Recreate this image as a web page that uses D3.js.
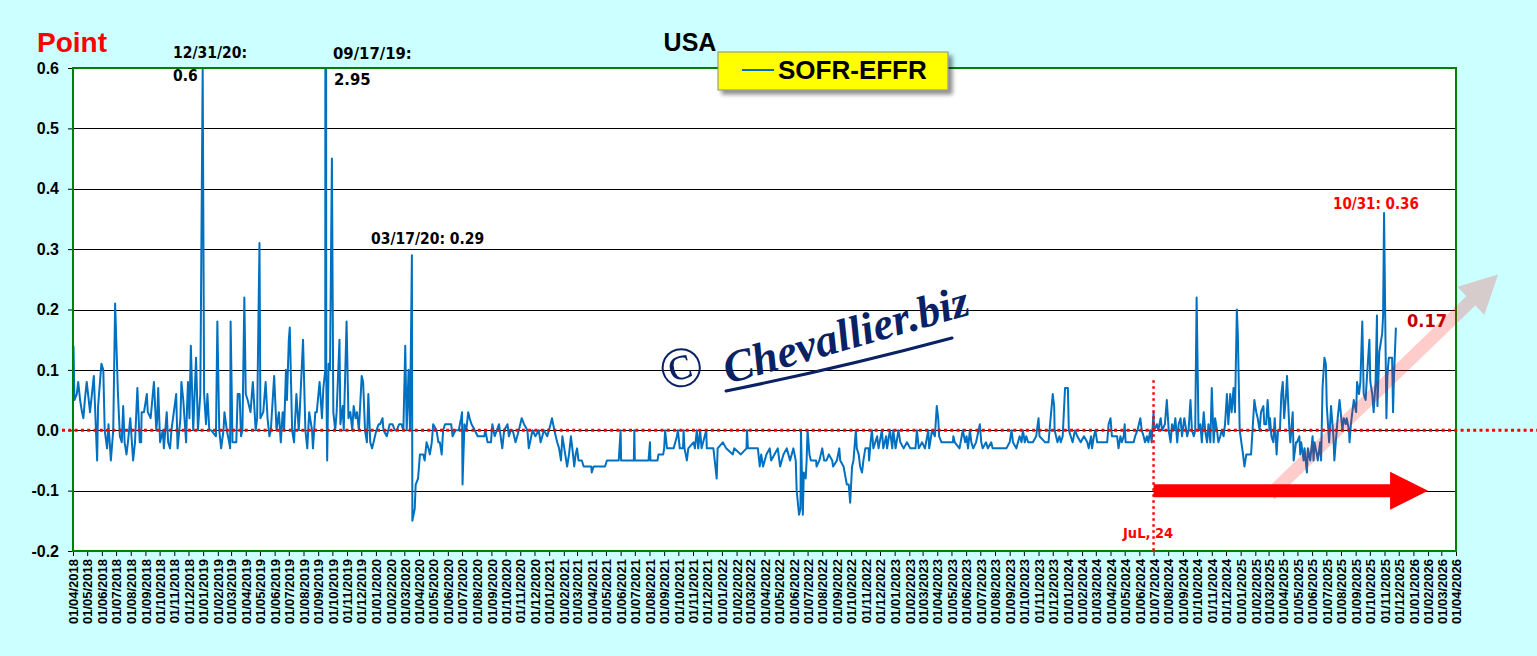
<!DOCTYPE html>
<html><head><meta charset="utf-8">
<script src="https://cdn.jsdelivr.net/npm/d3@7"></script>
<style>
html,body{margin:0;padding:0;background:#CCFFFF;overflow:hidden;}
svg{display:block;}
</style></head><body>
<svg id="chart" width="1537" height="656"></svg>
<script>
// ---------- DATA (SOFR - EFFR, percentage points) ----------
const s2018 = [["04-02",0.14],["04-04",0.05],["04-09",0.06],["04-12",0.08],["04-16",0.05],["04-20",0.03],["04-23",0.02],["04-26",0.05],["04-30",0.08],
["05-07",0.03],["05-15",0.09],["05-22",-0.05],["05-24",0.04],["05-31",0.11],
["06-04",0.10],["06-07",0.0],["06-12",-0.03],["06-15",0.01],["06-20",-0.05],["06-25",0.0],["06-29",0.21],
["07-05",0.06],["07-09",-0.01],["07-13",-0.02],["07-16",0.04],["07-19",-0.02],["07-23",-0.04],["07-26",-0.02],["07-31",0.02],
["08-06",-0.05],["08-10",-0.02],["08-15",0.07],["08-20",-0.02],["08-23",-0.02],["08-24",0.03],["08-29",0.03],
["09-04",0.06],["09-06",0.03],["09-12",0.02],["09-19",0.08],["09-24",0.0],["09-26",0.02],["09-28",0.07],
["10-02",-0.02],["10-08",0.0],["10-10",-0.03],["10-16",0.03],["10-19",-0.02],["10-23",-0.03],["10-26",0.0],
["11-05",0.06],["11-08",-0.03],["11-14",0.02],["11-16",0.08],["11-20",0.05],["11-26",-0.02],["11-28",0.04],["11-30",0.08],
["12-03",0.02],["12-06",0.14],["12-11",0.0],["12-17",0.12],["12-21",0.0],["12-26",0.06],["12-31",0.60]];

const s2019 = [["01-03",0.06],["01-07",0.01],["01-10",0.06],["01-14",0.0],["01-18",0.0],["01-28",-0.01],["01-31",0.18],
["02-04",0.0],["02-08",-0.03],["02-13",0.0],["02-15",0.03],["02-20",0.0],["02-25",-0.02],["02-27",-0.03],["02-28",0.18],
["03-04",-0.02],["03-08",-0.02],["03-12",-0.02],["03-15",0.06],["03-19",0.06],["03-22",-0.01],["03-25",0.0],["03-29",0.22],
["04-01",0.06],["04-05",0.05],["04-11",0.03],["04-16",0.08],["04-22",0.0],["04-25",0.02],["04-30",0.31],
["05-02",0.02],["05-08",0.03],["05-13",0.08],["05-17",0.02],["05-21",-0.01],["05-24",0.0],["05-31",0.09],
["06-05",0.0],["06-10",0.03],["06-14",-0.02],["06-18",0.03],["06-21",0.0],["06-25",0.10],["06-27",0.05],
["07-01",0.15],["07-03",0.17],["07-08",0.0],["07-12",-0.02],["07-17",0.06],["07-22",0.0],["07-24",0.03],["07-31",0.15],
["08-05",0.0],["08-09",-0.03],["08-13",0.03],["08-19",0.0],["08-21",-0.03],["08-26",0.03],["08-29",0.03],
["09-04",0.08],["09-09",0.02],["09-12",0.07],["09-16",0.10],["09-17",2.95],["09-18",0.10],["09-20",-0.05],["09-23",0.11],["09-26",0.10],["09-30",0.45],
["10-03",0.03],["10-07",0.0],["10-10",0.03],["10-16",0.15],["10-18",0.01],["10-23",0.04],["10-25",0.0],["10-31",0.18],
["11-04",0.02],["11-08",0.03],["11-12",0.0],["11-15",0.04],["11-19",0.02],["11-22",0.03],["11-26",0.0],
["12-02",0.09],["12-05",0.08],["12-09",0.0],["12-13",-0.02],["12-16",0.06],["12-20",-0.02],["12-24",-0.03],["12-30",-0.01]];

const s2020 = [["01-02",0.0],["01-07",0.01],["01-10",0.01],["01-15",0.02],["01-17",0.0],["01-24",-0.01],["01-30",0.01],
["02-05",0.01],["02-10",0.0],["02-14",0.0],["02-19",0.01],["02-24",0.01],["02-28",0.0],
["03-03",0.14],["03-06",0.0],["03-10",0.10],["03-13",0.0],["03-17",0.29],["03-18",-0.15],["03-23",-0.13],["03-25",-0.09],["03-30",-0.08],
["04-03",-0.04],["04-10",-0.04],["04-13",-0.05],["04-17",-0.02],["04-21",-0.03],["04-24",-0.04],["04-28",-0.02],
["05-01",0.01],["05-08",0.0],["05-12",-0.02],["05-15",-0.02],["05-19",-0.04],["05-22",0.0],["05-26",0.01],
["06-03",0.01],["06-08",0.01],["06-11",-0.01],["06-17",0.0],["06-24",0.0],["06-29",0.02],
["07-01",0.03],["07-02",-0.09],["07-06",0.01],["07-10",0.0],["07-14",0.03],["07-17",0.02],["07-21",0.01],["07-28",0.0],
["08-03",-0.01],["08-10",-0.01],["08-17",-0.01],["08-19",0.0],["08-24",-0.02],["08-31",-0.02],
["09-03",0.01],["09-08",-0.01],["09-17",0.01],["09-24",-0.03],["09-28",0.0],
["10-05",0.01],["10-08",-0.01],["10-12",0.0],["10-16",0.0],["10-22",-0.02],["10-29",0.0],
["11-04",0.02],["11-09",0.01],["11-16",0.0],["11-19",-0.03],["11-27",0.0],
["12-03",-0.01],["12-10",0.0],["12-14",-0.02],["12-21",0.0],["12-28",-0.01]];

const s2021 = [["01-04",0.01],["01-07",0.02],["01-12",0.0],["01-18",-0.02],["01-22",-0.03],["01-26",-0.05],["01-29",-0.01],
["02-02",-0.03],["02-08",-0.06],["02-12",-0.04],["02-16",-0.01],["02-19",-0.03],["02-23",-0.06],["02-26",-0.04],
["03-01",-0.03],["03-04",-0.05],["03-11",-0.05],["03-15",-0.06],["03-31",-0.06],["04-01",-0.07],["04-05",-0.06],["04-29",-0.06],
["05-03",-0.05],["05-28",-0.05],["06-01",0.0],["06-02",-0.05],["06-29",-0.05],["06-30",0.0],["07-01",-0.05],
["07-30",-0.05],["08-02",-0.02],["08-03",-0.05],["08-18",-0.05],["08-20",-0.04],["08-30",-0.04],["09-01",-0.03],["09-03",0.0],["09-07",-0.03],
["09-21",-0.03],["09-28",-0.01],["09-30",0.0],["10-04",-0.03],["10-11",-0.03],["10-12",0.0],["10-14",-0.03],["10-19",-0.05],["10-22",-0.03],
["11-02",-0.02],["11-05",-0.03],["11-09",0.0],["11-12",-0.03],["11-16",0.0],["11-19",-0.03],["11-29",0.0],["11-30",-0.03],
["12-14",-0.03],["12-21",-0.08],["12-23",-0.03]];

const s2022 = [["01-03",-0.02],["01-10",-0.03],["01-24",-0.04],["01-27",-0.03],["02-10",-0.04],["02-22",-0.03],["02-23",0.0],["02-25",-0.03],
["03-18",-0.03],["03-22",-0.06],["03-25",-0.04],["03-29",-0.06],["04-05",-0.04],["04-12",-0.03],["04-15",-0.05],["04-22",-0.04],["04-29",-0.03],
["05-04",-0.06],["05-11",-0.04],["05-18",-0.03],["05-25",-0.05],["06-01",-0.03],["06-06",-0.05],["06-08",-0.10],["06-13",-0.14],["06-16",-0.13],["06-17",0.0],["06-21",-0.14],["06-23",-0.07],["06-27",-0.08],["06-29",-0.05],
["07-01",0.0],["07-05",-0.04],["07-08",-0.05],["07-19",-0.05],["07-20",-0.06],["07-26",-0.05],
["08-01",-0.03],["08-05",-0.05],["08-10",-0.05],["08-15",-0.04],["08-22",-0.05],["08-24",-0.06],
["09-01",-0.05],["09-06",-0.03],["09-08",-0.05],["09-15",-0.06],["09-22",-0.09],["09-26",-0.09],["09-29",-0.12],
["10-03",-0.06],["10-06",-0.05],["10-11",0.0],["10-13",-0.03],["10-17",-0.04],["10-20",-0.06],["10-24",-0.07],["10-27",-0.05],["10-31",-0.03],
["11-07",-0.03],["11-08",-0.05],["11-11",-0.02],["11-14",0.0],["11-17",-0.03],["11-25",-0.01],["11-28",-0.03],
["12-05",0.0],["12-08",-0.03],["12-14",-0.01],["12-16",-0.03],["12-22",0.0],["12-27",-0.03],["12-29",0.0]];

const s2023 = [["01-03",-0.03],["01-09",0.0],["01-13",-0.02],["01-20",-0.03],["01-27",-0.02],["02-03",-0.03],["02-14",-0.03],["02-17",0.0],["02-21",-0.03],["02-28",-0.02],
["03-06",-0.03],["03-13",0.0],["03-15",-0.03],["03-21",0.0],["03-27",-0.01],["03-31",0.04],["04-03",0.02],["04-05",-0.01],["04-10",-0.02],
["05-04",-0.02],["05-05",-0.01],["05-08",-0.02],["05-18",-0.03],["05-25",0.0],["05-30",-0.02],["06-02",-0.01],["06-05",-0.03],["06-09",0.0],["06-12",-0.02],["06-16",-0.03],["06-22",-0.02],["06-30",0.01],
["07-03",-0.02],["07-06",-0.03],["07-13",-0.02],["07-17",-0.03],["07-24",-0.02],["07-27",-0.03],["08-25",-0.03],
["09-01",-0.02],["09-05",0.0],["09-08",-0.02],["09-15",-0.03],["09-22",-0.01],["09-26",-0.02],["09-29",0.0],
["10-03",-0.02],["10-06",-0.01],["10-10",-0.02],["10-20",-0.02],["10-27",-0.01],["11-01",0.02],["11-03",-0.01],["11-15",-0.02],["11-22",-0.02],
["12-01",0.06],["12-04",0.04],["12-05",0.0],["12-08",-0.01],["12-11",-0.02],["12-15",-0.01],["12-18",-0.02],["12-22",-0.01],["12-27",0.07],["12-29",0.07]];

const s2024 = [["01-02",0.07],["01-04",0.0],["01-08",-0.01],["01-12",-0.02],["01-17",0.0],["01-22",-0.01],["01-29",-0.02],
["02-05",-0.01],["02-12",-0.02],["02-15",-0.03],["02-20",-0.01],["02-22",-0.03],["02-26",-0.01],["02-29",0.0],
["03-04",-0.02],["03-25",-0.02],["03-28",0.01],["04-01",0.02],["04-04",-0.01],["04-15",-0.01],["04-18",-0.03],["04-22",-0.01],["04-25",-0.02],["04-29",-0.01],
["05-01",0.01],["05-03",-0.02],["05-20",-0.02],["05-23",-0.01],["05-28",0.0],["05-31",0.01],
["06-03",0.02],["06-06",0.0],["06-10",-0.01],["06-13",-0.02],["06-17",-0.01],["06-20",-0.02],["06-24",0.0],["06-27",-0.02],
["07-01",0.03],["07-02",0.0],["07-08",0.01],["07-11",0.0],["07-16",0.02],["07-19",0.0],["07-25",0.01],["07-29",0.05],
["08-02",0.0],["08-06",-0.02],["08-09",0.01],["08-13",0.0],["08-16",0.02],["08-20",-0.02],["08-23",0.01],["08-27",0.02],["08-30",-0.01],
["09-04",0.02],["09-06",0.01],["09-10",-0.01],["09-13",0.0],["09-17",0.05],["09-20",0.0],["09-24",-0.01],["09-27",0.0],["09-30",0.22],
["10-04",0.0],["10-08",0.01],["10-11",-0.02],["10-15",0.03],["10-18",0.0],["10-22",-0.02],["10-25",0.01],["10-29",-0.02],
["11-01",0.07],["11-05",-0.02],["11-08",0.02],["11-12",0.0],["11-15",-0.02],["11-19",-0.01],["11-22",0.0],["11-26",-0.01],["11-29",0.01],
["12-03",0.06],["12-06",0.01],["12-10",0.06],["12-13",0.03],["12-17",0.07],["12-20",0.03],["12-24",0.20],["12-26",0.16],["12-30",0.0]];

const s2025 = [["01-06",-0.04],["01-09",-0.06],["01-13",-0.04],["01-20",-0.04],["01-23",-0.04],["01-30",0.05],
["02-03",0.03],["02-06",0.02],["02-10",0.0],["02-13",0.03],["02-18",0.04],["02-20",0.01],["02-24",0.01],["02-27",0.05],
["03-03",0.0],["03-04",0.02],["03-07",-0.01],["03-11",-0.02],["03-14",0.02],["03-18",-0.04],["03-21",0.0],["03-25",0.0],["03-28",0.06],["03-31",0.08],
["04-03",0.02],["04-07",0.06],["04-09",0.09],["04-14",0.0],["04-16",-0.02],["04-21",0.03],["04-23",-0.05],["04-28",-0.02],["04-30",-0.02],
["05-05",-0.01],["05-07",-0.04],["05-09",-0.02],["05-14",-0.05],["05-16",-0.03],["05-21",-0.07],["05-23",-0.03],["05-28",-0.05],
["06-02",-0.01],["06-04",-0.05],["06-06",-0.02],["06-11",-0.04],["06-13",-0.05],["06-18",-0.02],["06-20",-0.05],["06-23",0.07],["06-27",0.12],["06-30",0.11],
["07-02",0.04],["07-07",-0.02],["07-09",0.01],["07-11",0.04],["07-16",-0.01],["07-18",-0.05],["07-23",0.0],["07-25",0.02],["07-29",0.05],
["08-04",0.0],["08-07",0.02],["08-11",0.01],["08-13",0.02],["08-18",0.0],["08-19",-0.02],["08-22",0.01],["08-25",0.03],["08-28",0.05],
["09-02",0.03],["09-04",0.08],["09-08",0.06],["09-11",0.08],["09-15",0.18],["09-18",0.06],["09-22",0.05],["09-25",0.09],["09-30",0.15],
["10-02",0.08],["10-06",0.06],["10-09",0.03],["10-13",0.08],["10-16",0.19],["10-17",0.04],["10-21",0.13],["10-27",0.16],["10-29",0.19],["10-31",0.36],
["11-03",0.15],["11-05",0.02],["11-07",0.09],["11-10",0.12],["11-13",0.12],["11-17",0.12],["11-19",0.03],["11-21",0.09],["11-25",0.17]];

const seriesByYear = [[2018,s2018],[2019,s2019],[2020,s2020],[2021,s2021],[2022,s2022],[2023,s2023],[2024,s2024],[2025,s2025]];

const yTicks = [-0.2,-0.1,0.0,0.1,0.2,0.3,0.4,0.5,0.6];
const xDomain = ["2018-04-01","2026-04-01"];       // first / last monthly tick label
const legendLabel = "SOFR-EFFR";
const chartTitle = "USA";
const yTitle = "Point";

// annotations
const notes = [
  {t:"12/31/20:", x:173, y:58, size:15.5, color:"#000"},
  {t:"0.6",       x:173, y:81, size:15.5, color:"#000"},
  {t:"09/17/19:", x:333, y:59, size:16.5, color:"#000"},
  {t:"2.95",      x:334, y:85, size:16.5, color:"#000"},
  {t:"03/17/20: 0.29", x:371, y:244, size:15.5, color:"#000"},
  {t:"10/31: 0.36", x:1333, y:209, size:15, color:"#FF0000"},
  {t:"0.17",      x:1407, y:327, size:18, color:"#C00000"},
  {t:"JuL, 24",   x:1123, y:538, size:14.5, color:"#FF0000"}
];
const markerDate = "2024-07-01", markerTop = 0.083;
const redArrow  = {from:["2024-07-01",-0.1], to:["2026-02-01",-0.1]};
const pinkArrow = {from:["2025-03-04",-0.107], to:["2026-06-29",0.258]};

// ---------- CHART ----------
const parse = d3.timeParse("%Y-%m-%d");
const data = [];
seriesByYear.forEach(([yr, arr]) => arr.forEach(([md, v]) => data.push({date: parse(yr + "-" + md), value: v})));

const L = 73, R = 1456, T = 68, B = 551;
const x = d3.scaleTime().domain(xDomain.map(parse)).range([L, R]);
const y = d3.scaleLinear().domain([-0.2, 0.6]).range([B, T]);

const svg = d3.select("#chart");
const defs = svg.append("defs");
defs.append("clipPath").attr("id","plotclip").append("rect").attr("x",L).attr("y",T).attr("width",R-L).attr("height",B-T);
const f = defs.append("filter").attr("id","shadow").attr("x","-10%").attr("y","-30%").attr("width","130%").attr("height","180%");
f.append("feDropShadow").attr("dx",4).attr("dy",4).attr("stdDeviation",2).attr("flood-color","#000").attr("flood-opacity",0.45);

svg.append("rect").attr("width",1537).attr("height",656).attr("fill","#CCFFFF");
svg.append("rect").attr("x",L).attr("y",T).attr("width",R-L).attr("height",B-T).attr("fill","#fff");

// gridlines
svg.append("g").selectAll("line").data(yTicks.filter(v => v > -0.2 && v < 0.6)).join("line")
  .attr("x1",L).attr("x2",R).attr("y1",d=>Math.round(y(d))+0.5).attr("y2",d=>Math.round(y(d))+0.5)
  .attr("stroke","#000").attr("stroke-width",1);

// y axis
const yAxis = svg.append("g").attr("transform",`translate(${L},0)`)
  .call(d3.axisLeft(y).tickValues(yTicks).tickSize(5).tickFormat(d => d.toFixed(1)));
yAxis.select(".domain").remove();
yAxis.selectAll(".tick line").attr("stroke","#000");
yAxis.selectAll("text").attr("x",-14).style("font-family","'Liberation Sans',Arial,sans-serif")
  .style("font-weight","bold").style("font-size","16px").attr("fill","#000");

// x axis
const xAxis = svg.append("g").attr("transform",`translate(0,${B})`)
  .call(d3.axisBottom(x).ticks(d3.timeMonth.every(1)).tickSize(5).tickFormat(d3.timeFormat("%d/%m/%Y")));
xAxis.select(".domain").remove();
xAxis.selectAll(".tick line").attr("stroke","#000");
xAxis.selectAll("text").attr("transform","rotate(-90)").attr("x",-8).attr("y",0).attr("dy","0.36em")
  .style("text-anchor","end").style("font-family","'Liberation Sans',Arial,sans-serif")
  .style("font-weight","bold").style("font-size","13px").attr("fill","#000");

// series line
const line = d3.line().x(d => x(d.date)).y(d => y(d.value));
svg.append("path").datum(data).attr("clip-path","url(#plotclip)").attr("d",line)
  .attr("fill","none").attr("stroke","#0070C0").attr("stroke-width",2).attr("stroke-linejoin","round");

// plot border
svg.append("rect").attr("x",L).attr("y",T).attr("width",R-L).attr("height",B-T)
  .attr("fill","none").attr("stroke","#008000").attr("stroke-width",2);

// zero dotted line
svg.append("line").attr("x1",62).attr("x2",1537).attr("y1",y(0)).attr("y2",y(0))
  .attr("stroke","#FF0000").attr("stroke-width",3).attr("stroke-dasharray","3,3.3");
// vertical marker
svg.append("line").attr("x1",x(parse(markerDate))).attr("x2",x(parse(markerDate)))
  .attr("y1",y(markerTop)).attr("y2",B)
  .attr("stroke","#FF0000").attr("stroke-width",2.5).attr("stroke-dasharray","2.5,3.5");

// arrow builder
function arrowPath(p0, p1, shaftHalf, headHalf, headLen){
  const dx = p1[0]-p0[0], dy = p1[1]-p0[1], len = Math.hypot(dx,dy);
  const ux = dx/len, uy = dy/len, nx = -uy, ny = ux;
  const bx = p1[0]-ux*headLen, by = p1[1]-uy*headLen;
  const pts = [
    [p0[0]+nx*shaftHalf, p0[1]+ny*shaftHalf],
    [bx+nx*shaftHalf, by+ny*shaftHalf],
    [bx+nx*headHalf, by+ny*headHalf],
    [p1[0], p1[1]],
    [bx-nx*headHalf, by-ny*headHalf],
    [bx-nx*shaftHalf, by-ny*shaftHalf],
    [p0[0]-nx*shaftHalf, p0[1]-ny*shaftHalf]
  ];
  return "M" + pts.map(p => p.join(",")).join("L") + "Z";
}
const pt = a => [x(parse(a[0])), y(a[1])];
svg.append("path").attr("d", arrowPath(pt(pinkArrow.from), pt(pinkArrow.to), 6.5, 19.5, 38))
  .attr("fill","#FF0000").attr("fill-opacity",0.2);
svg.append("path").attr("d", arrowPath(pt(redArrow.from), pt(redArrow.to), 6.5, 19, 38))
  .attr("fill","#FF0000");

// annotations
svg.append("g").selectAll("text").data(notes).join("text")
  .attr("x",d=>d.x).attr("y",d=>d.y).text(d=>d.t)
  .attr("fill",d=>d.color)
  .style("font-family","'DejaVu Sans Condensed','DejaVu Sans',Verdana,sans-serif")
  .style("font-stretch","condensed").style("font-weight","bold")
  .style("font-size",d=>d.size+"px");

// titles
svg.append("text").attr("x",37).attr("y",52).text(yTitle).attr("fill","#FF0000")
  .style("font-family","'Liberation Sans',Arial,sans-serif").style("font-weight","bold").style("font-size","28px");
svg.append("text").attr("x",690).attr("y",51).attr("text-anchor","middle").text(chartTitle).attr("fill","#000")
  .style("font-family","'Liberation Sans',Arial,sans-serif").style("font-weight","bold").style("font-size","25px");

// legend
const lg = svg.append("g");
lg.append("rect").attr("x",718).attr("y",52).attr("width",230).attr("height",38)
  .attr("fill","#FFFF00").attr("stroke","#8a8a8a").attr("stroke-width",1).attr("filter","url(#shadow)");
lg.append("line").attr("x1",742).attr("x2",774).attr("y1",70).attr("y2",70).attr("stroke","#0070C0").attr("stroke-width",2);
lg.append("text").attr("x",778).attr("y",79).text(legendLabel).attr("fill","#000")
  .style("font-family","'Liberation Sans',Arial,sans-serif").style("font-weight","bold").style("font-size","26px");

// watermark
const wm = svg.append("g").attr("fill","#0A2164");
wm.append("text").attr("transform","translate(664,392) rotate(-15)").text("©")
  .style("font-family","'Liberation Serif','DejaVu Serif',serif").style("font-style","italic").style("font-size","58px");
wm.append("text").attr("transform","translate(728,384) rotate(-16)").text("Chevallier.biz")
  .style("font-family","'Liberation Serif','DejaVu Serif',serif").style("font-style","italic").style("font-weight","bold").style("font-size","45px");
wm.append("path").attr("d","M726,391 Q840,368 952,338").attr("fill","none").attr("stroke","#0A2164")
  .attr("stroke-width",3).attr("stroke-linecap","round");
</script>
</body></html>
